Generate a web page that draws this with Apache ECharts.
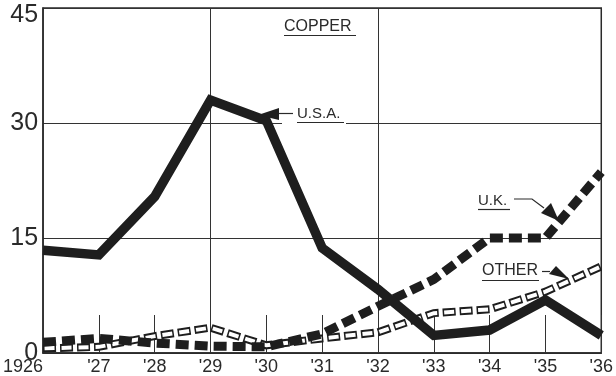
<!DOCTYPE html>
<html><head><meta charset="utf-8">
<script src="https://cdn.jsdelivr.net/npm/echarts@6/dist/echarts.min.js"></script>
<style>html,body{margin:0;padding:0;background:#fff}#c{width:616px;height:376px}</style>
</head><body><div id="c"></div>
<script>
const years = ['1926', "'27", "'28", "'29", "'30", "'31", "'32", "'33", "'34", "'35", "'36"];
const usa   = [13.4, 12.8, 20.4, 33.0, 30.3, 13.7, 8.3, 2.3, 3.0, 6.9, 2.3];
const uk    = [1.4, 1.9, 1.3, 0.9, 0.8, 2.5, 6.1, 9.6, 15.0, 15.0, 23.6];
const other = [0.6, 0.8, 2.2, 3.3, 1.0, 1.9, 2.7, 5.2, 5.7, 8.0, 11.3];
const yTicks = [0, 15, 30, 45];

const ink = '#1e1e1e';
const narrow = 'Liberation Sans Narrow, Liberation Sans, sans-serif';
const chart = echarts.init(document.getElementById('c'));
chart.setOption({
  animation: false,
  backgroundColor: '#fff',
  grid: { left: 41, right: 9, top: 8, bottom: 23, show: true, borderColor: '#2a2a2a', borderWidth: 1.5 },
  xAxis: {
    type: 'category', data: years, boundaryGap: false,
    axisLine: { lineStyle: { color: '#2a2a2a', width: 1.5 } },
    axisTick: { inside: true, length: 38, interval: 0, lineStyle: { color: '#333', width: 1 } },
    axisLabel: { interval: 0, color: '#2a2a2a', fontFamily: narrow, fontSize: 18, margin: 5, alignMinLabel: 'right' },
    splitLine: { show: true, interval: (i) => i === 3 || i === 6, lineStyle: { color: '#333', width: 1 } }
  },
  yAxis: {
    type: 'value', min: yTicks[0], max: yTicks[yTicks.length - 1], interval: 15,
    axisLine: { show: true, lineStyle: { color: '#2a2a2a', width: 1.5 } },
    axisTick: { show: false },
    axisLabel: {
      color: '#2a2a2a', fontFamily: narrow, fontSize: 25, margin: 5,
      formatter: (v) => v === 45 ? '{t|45}' : String(v),
      rich: { t: { fontSize: 25, fontFamily: narrow, color: '#2a2a2a', padding: [14, 0, 0, 0] } }
    },
    splitLine: { show: true, lineStyle: { color: '#333', width: 1 } }
  },
  series: [
    { name: 'OTHER outline', type: 'line', data: other, symbol: 'none', z: 3,
      lineStyle: { color: ink, width: 8, type: [13, 4], cap: 'butt', join: 'miter' } },
    { name: 'OTHER', type: 'line', data: other, symbol: 'none', z: 4,
      lineStyle: { color: '#fff', width: 4, type: [10, 7], dashOffset: 15.5, cap: 'butt', join: 'miter' } },
    { name: 'U.K.', type: 'line', data: uk, symbol: 'none', z: 5,
      lineStyle: { color: ink, width: 9, type: [13, 6], cap: 'butt', join: 'miter' } },
    { name: 'U.S.A.', type: 'line', data: usa, symbol: 'none', z: 6,
      lineStyle: { color: ink, width: 9.5, cap: 'butt', join: 'miter' } }
  ],
  graphic: [
    { type: 'text', left: 284, top: 19, z: 20, style: { text: 'COPPER', font: '16px Liberation Sans, sans-serif', fill: '#2a2a2a' } },
    { type: 'line', z: 20, shape: { x1: 284, y1: 35.5, x2: 356, y2: 35.5 }, style: { stroke: '#2a2a2a', lineWidth: 1.2 } },
    { type: 'rect', z: 19, shape: { x: 282, y: 120, width: 64, height: 6 }, style: { fill: '#fff' } },
    { type: 'text', left: 297, top: 106, z: 20, style: { text: 'U.S.A.', font: '15px ' + narrow, fill: '#2a2a2a' } },
    { type: 'line', z: 20, shape: { x1: 297, y1: 122.5, x2: 344, y2: 122.5 }, style: { stroke: '#2a2a2a', lineWidth: 1.2 } },
    { type: 'line', z: 20, shape: { x1: 276, y1: 113.5, x2: 293, y2: 113.5 }, style: { stroke: '#2a2a2a', lineWidth: 1.2 } },
    { type: 'polygon', z: 20, shape: { points: [[258, 115], [279, 108], [279, 120]] }, style: { fill: ink } },
    { type: 'text', left: 478, top: 193, z: 20, style: { text: 'U.K.', font: '15px ' + narrow, fill: '#2a2a2a' } },
    { type: 'line', z: 20, shape: { x1: 478, y1: 209.5, x2: 510, y2: 209.5 }, style: { stroke: '#2a2a2a', lineWidth: 1.2 } },
    { type: 'polyline', z: 20, shape: { points: [[514, 199], [532, 199], [544, 208]] }, style: { stroke: '#2a2a2a', lineWidth: 1.2, fill: null } },
    { type: 'polygon', z: 20, shape: { points: [[559, 221], [541, 213], [551, 203]] }, style: { fill: ink } },
    { type: 'text', left: 482, top: 263, z: 20, style: { text: 'OTHER', font: '16px ' + narrow, fill: '#2a2a2a' } },
    { type: 'line', z: 20, shape: { x1: 482, y1: 280.5, x2: 539, y2: 280.5 }, style: { stroke: '#2a2a2a', lineWidth: 1.2 } },
    { type: 'line', z: 20, shape: { x1: 542, y1: 271.5, x2: 550, y2: 271.5 }, style: { stroke: '#2a2a2a', lineWidth: 1.2 } },
    { type: 'polygon', z: 20, shape: { points: [[569, 279], [549, 274], [556, 266]] }, style: { fill: ink } }
  ]
});
</script></body></html>
